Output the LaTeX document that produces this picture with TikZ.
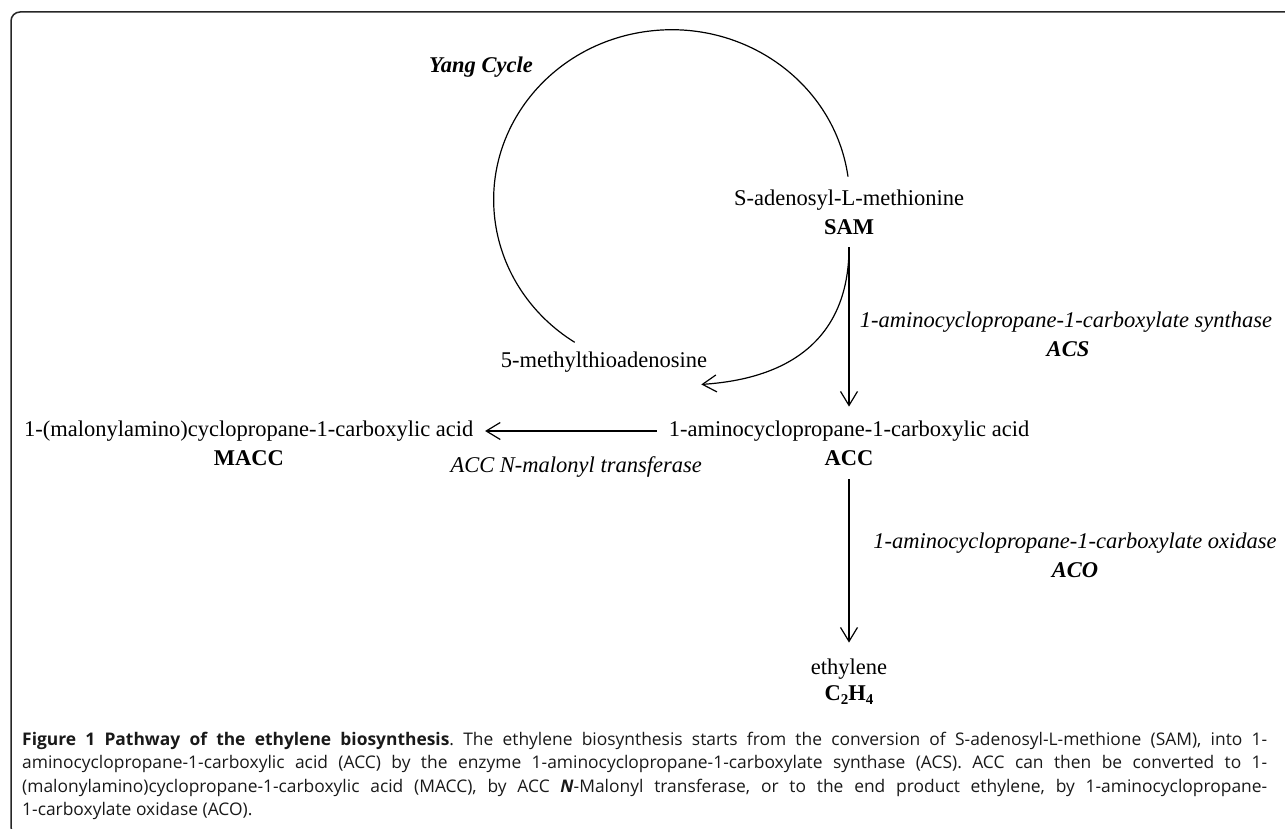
\documentclass[tikz,border=0pt]{standalone}
\usepackage{fontspec}
\setmainfont{Liberation Serif}
\newfontfamily\capfont{Open Sans}
\usetikzlibrary{arrows.meta}
\newcommand{\lowidx}[1]{\raisebox{-4.5pt}{\fontsize{15}{15}\selectfont #1}}
\begin{document}
\begin{tikzpicture}[x=1pt,y=-1pt,
  lbl/.style={inner sep=0pt, font=\fontsize{22.5}{27}\selectfont},
  lblb/.style={inner sep=0pt, font=\fontsize{22.5}{27}\selectfont\bfseries},
  lbli/.style={inner sep=0pt, font=\fontsize{22.5}{27}\selectfont\itshape},
  lblbi/.style={inner sep=0pt, font=\fontsize{22.5}{27}\selectfont\bfseries\itshape},
  conn/.style={line width=1.2pt, -{Straight Barb[length=14pt,width=17pt,line width=1.2pt]}},
  cyc/.style={line width=1.2pt},
  frame/.style={line width=1.5pt, draw=black!85, rounded corners=9pt},
  caption/.style={anchor=north west, inner sep=0pt, text width=1245pt, align=justify,
    font=\capfont\fontsize{17.4}{23.3}\selectfont\frenchspacing, text=black!90}
]
\useasboundingbox (0,0) rectangle (1285,829);
\draw[frame] (11,12) rectangle (1300,836);

% nodes
\node[lblbi] (yang) at (481,67) {Yang Cycle};
\node[lbl]  (sam1) at (849,200) {S-adenosyl-L-methionine};
\node[lblb] (sam2) at (849,227) {SAM};
\node[lbl]  (mta)  at (604,362) {5-methylthioadenosine};
\node[lbl]  (acc1) at (849,431) {1-aminocyclopropane-1-carboxylic acid};
\node[lblb] (acc2) at (849,458) {ACC};
\node[lbl, anchor=west] (macc1) at (24,431) {1-(malonylamino)cyclopropane-1-carboxylic acid};
\node[lblb] (macc2) at (macc1.center |- acc2.center) {MACC};
\node[lbl]  (eth1) at (849,669) {ethylene};
\node[lblb] (eth2) at (849,695) {C\lowidx{2}H\lowidx{4}};
\node[lbli] (acslab) at (1066,322) {1-aminocyclopropane-1-carboxylate synthase};
\node[lblbi] (acsb) at (1068,349) {ACS};
\node[lbli] (acolab) at (1075,543) {1-aminocyclopropane-1-carboxylate oxidase};
\node[lblbi] (acob) at (1075,570) {ACO};
\node[lbli, anchor=east] (malab) at (702,467) {ACC \textit{N}-malonyl transferase};

\coordinate (s0) at ([yshift=-12.5pt]sam2.south);
\coordinate (mtatip) at ([xshift=-6pt,yshift=-12pt]mta.south east);

% Yang cycle
\draw[cyc] ([xshift=-1pt,yshift=12.9pt]sam1.north) arc[start angle=-7.8, end angle=-237, x radius=178, y radius=170];

% connectors
\draw[conn] (s0) -- ([yshift=14pt]acc1.north);
\draw[conn] (s0) .. controls (849,330) and (800,378) .. (mtatip);
\draw[conn] ([yshift=-13.5pt]acc2.south) -- ([yshift=16pt]eth1.north);
\draw[conn] ([xshift=-12pt]acc1.west) -- ([xshift=11.5pt]macc1.east);

% caption
\node[caption] (cap) at (22,732) {\textbf{Figure 1 Pathway of the ethylene biosynthesis}. The ethylene biosynthesis starts from the conversion of S-adenosyl-L-methione (SAM), into 1-\linebreak
aminocyclopropane-1-carboxylic acid (ACC) by the enzyme 1-aminocyclopropane-1-carboxylate synthase (ACS). ACC can then be converted to 1-\linebreak
(malonylamino)cyclopropane-1-carboxylic acid (MACC), by ACC \textbf{\textit{N}}-Malonyl transferase, or to the end product ethylene, by 1-aminocyclopropane-\linebreak
1-carboxylate oxidase (ACO).};
\end{tikzpicture}
\end{document}
